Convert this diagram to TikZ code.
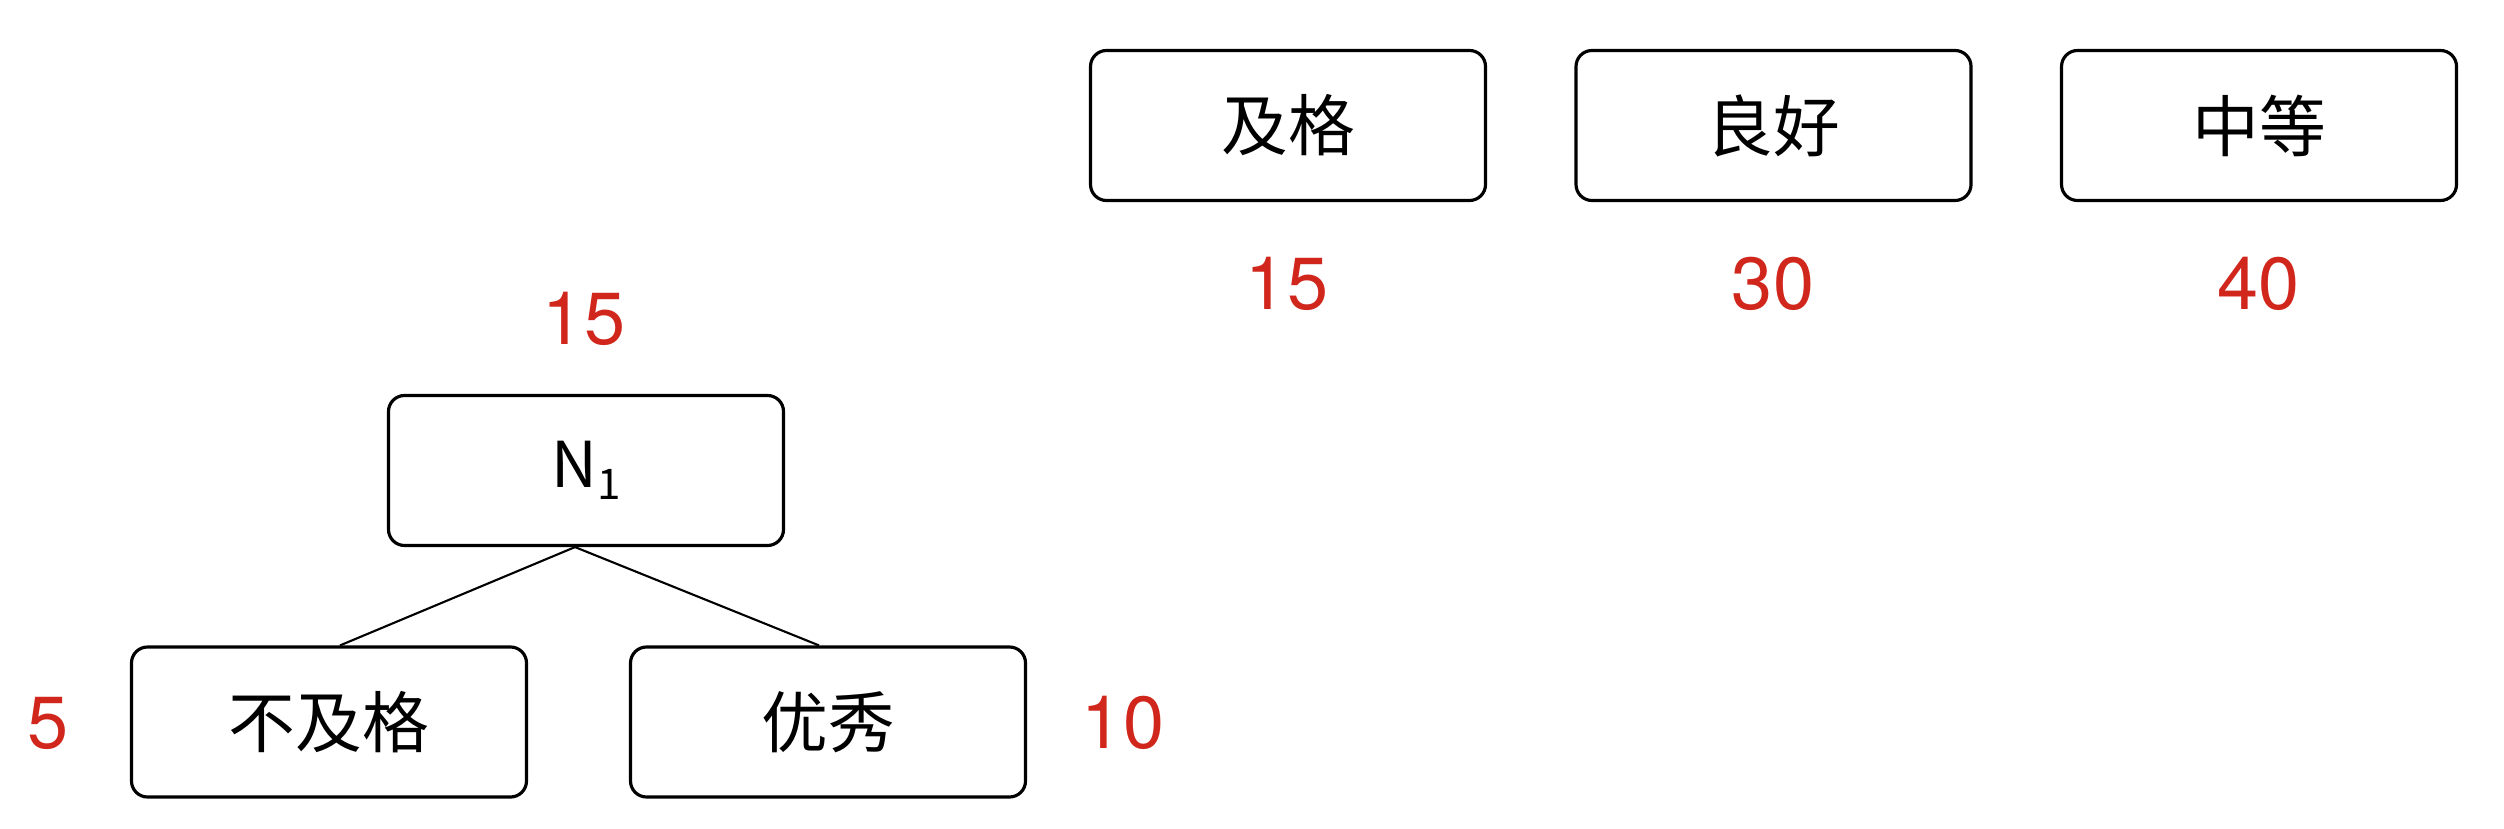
\documentclass[tikz,border=0pt]{standalone}
\usepackage{fontspec}
\setmainfont{TeX Gyre Heros}
\newfontfamily\cjk{Noto Sans CJK SC}
\definecolor{weightred}{RGB}{208,38,28}

\begin{document}
\begin{tikzpicture}[grade/.style={draw, rounded corners=0.16cm, line width=0.9pt, minimum width=3.95cm, minimum height=1.5cm, font=\fontsize{19}{22}\selectfont\cjk},weight/.style={text=weightred, font=\fontsize{21}{24}\selectfont},edge/.style={line width=0.6pt}]
\useasboundingbox (0,0) rectangle (25.04,8.28);
% merged node and its two children
\node[grade] (n1) at (5.86,3.575) {\fontsize{18}{22}\selectfont N\raisebox{-0.35ex}{\fontsize{12}{14}\selectfont 1}};
\node[grade] (fail) at (3.29,1.06) {不及格}; \node[grade] (excellent) at (8.28,1.06) {优秀};
\draw[edge] ([xshift=-1.1mm]n1.south) -- ([xshift=1.1mm]fail.north); \draw[edge] ([xshift=-1.1mm]n1.south) -- ([xshift=-0.9mm]excellent.north);
\node[weight] (w-n1) at (5.84,5.09) {15}; \node[weight] (w-fail) at (0.48,1.05) {5}; \node[weight] (w-excellent) at (11.23,1.05) {10};
% remaining grades
\node[grade] (pass) at (12.88,7.025) {及格}; \node[grade] (good) at (17.735,7.025) {良好}; \node[grade] (medium) at (22.59,7.025) {中等};
\node[weight] (w-pass) at (12.87,5.44) {15}; \node[weight] (w-good) at (17.73,5.44) {30}; \node[weight] (w-medium) at (22.58,5.44) {40};
\end{tikzpicture}
\end{document}
